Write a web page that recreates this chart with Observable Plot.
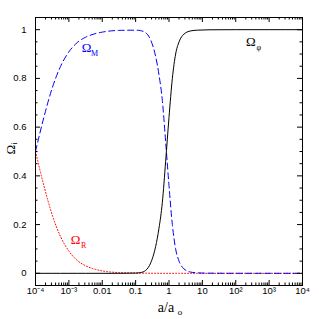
<!DOCTYPE html>
<html><head><meta charset="utf-8">
<script src="https://cdn.jsdelivr.net/npm/d3@7"></script>
<script src="https://cdn.jsdelivr.net/npm/@observablehq/plot@0.6"></script>
<style>body{margin:0;background:#fff;}</style>
</head><body><div id="chart"></div>
<script>
// scale factor a/a0
const scaleFactor = [1e-4, 1.78e-4, 3.16e-4, 5.62e-4, 1e-3, 1.78e-3, 3.16e-3, 5.62e-3, 0.01, 0.0316, 0.1, 0.141, 0.2, 0.282, 0.398, 0.501, 0.631, 0.794, 1, 1.26, 1.58, 2, 2.82, 4.47, 7.08, 15.8, 100, 1000, 10000];
// density parameters
const omegaR   = [0.5, 0.36, 0.24, 0.151, 0.091, 0.053, 0.031, 0.018, 0.010, 0.003, 0.001, 0.0007, 0.0005, 0.0003, 0.0002, 0.0001, 0, 0, 0, 0, 0, 0, 0, 0, 0, 0, 0, 0, 0];
const omegaM   = [0.5, 0.64, 0.76, 0.849, 0.909, 0.947, 0.969, 0.982, 0.99, 0.997, 0.998, 0.996, 0.9875, 0.958, 0.89, 0.815, 0.71, 0.54, 0.36, 0.20, 0.10, 0.05, 0.018, 0.005, 0.002, 0.0005, 0, 0, 0];
const omegaPhi = [0, 0, 0, 0, 0, 0, 0, 0, 0, 0, 0.001, 0.003, 0.012, 0.042, 0.11, 0.185, 0.29, 0.46, 0.64, 0.80, 0.90, 0.95, 0.982, 0.995, 0.998, 0.9995, 1, 1, 1];

const xTickValues = [1e-4, 1e-3, 0.01, 0.1, 1, 10, 100, 1000, 10000];
const xTickLabels = ["10\u207B\u2074", "10\u207B\u00B3", "0.01", "0.1", "1", "10", "10\u00B2", "10\u00B3", "10\u2074"];
const yTickValues = [0, 0.2, 0.4, 0.6, 0.8, 1];
const yTickLabels = ["0", "0.2", "0.4", "0.6", "0.8", "1"];
const yMinorValues = [0.05, 0.1, 0.15, 0.25, 0.3, 0.35, 0.45, 0.5, 0.55, 0.65, 0.7, 0.75, 0.85, 0.9, 0.95];
const xMinorValues = [];
for (const dec of [1e-4, 1e-3, 1e-2, 1e-1, 1, 10, 100, 1000]) for (let k = 2; k <= 9; k++) xMinorValues.push(dec * k);

const seriesLabels = [
  {a: 3.4e-3, v: 0.926, main: "\u03A9", sub: "M", color: "#0000ff"},
  {a: 1.6e-3, v: 0.139, main: "\u03A9", sub: "R", color: "#ff0000"},
  {a: 282, v: 0.951, main: "\u03A9", sub: "\u03C6", color: "#000000"}
];

const rows = scaleFactor.map((a, i) => ({a, R: omegaR[i], M: omegaM[i], P: omegaPhi[i]}));

const W = 319, H = 319, mL = 35, mR = 17, mT = 17, mB = 34;
const ph = H - mT - mB, pw = W - mL - mR;
const serif = "Liberation Serif";

const chart = Plot.plot({
  width: W, height: H,
  marginLeft: mL, marginRight: mR, marginTop: mT, marginBottom: mB,
  style: {fontFamily: "Liberation Sans", fontSize: "9.5px", background: "#fff", color: "#000"},
  x: {type: "log", domain: [1e-4, 1e4], axis: null},
  y: {domain: [-0.05, 1.05], axis: null},
  marks: [
    Plot.line(rows, {x: "a", y: "R", stroke: "#ff0000", strokeWidth: 1, strokeDasharray: "1,2", curve: "monotone-x"}),
    Plot.line(rows, {x: "a", y: "M", stroke: "#0000ff", strokeWidth: 1, strokeDasharray: "6,3.5", curve: "monotone-x"}),
    Plot.line(rows, {x: "a", y: "P", stroke: "#000000", strokeWidth: 1, curve: "monotone-x"}),
    Plot.frame({stroke: "#000", strokeWidth: 1}),
    // ticks, inward on all four sides
    Plot.tickX(xTickValues, {x: d => d, insetTop: ph - 5, stroke: "#000"}),
    Plot.tickX(xTickValues, {x: d => d, insetBottom: ph - 5, stroke: "#000"}),
    Plot.tickX(xMinorValues, {x: d => d, insetTop: ph - 2.5, stroke: "#000"}),
    Plot.tickX(xMinorValues, {x: d => d, insetBottom: ph - 2.5, stroke: "#000"}),
    Plot.tickY(yTickValues, {y: d => d, insetRight: pw - 5, stroke: "#000"}),
    Plot.tickY(yTickValues, {y: d => d, insetLeft: pw - 5, stroke: "#000"}),
    Plot.tickY(yMinorValues, {y: d => d, insetRight: pw - 2.5, stroke: "#000"}),
    Plot.tickY(yMinorValues, {y: d => d, insetLeft: pw - 2.5, stroke: "#000"}),
    // tick labels
    Plot.text(xTickValues, {x: d => d, text: (d, i) => xTickLabels[i], frameAnchor: "bottom", dy: 8, fill: "#000"}),
    Plot.text(yTickValues, {y: d => d, text: (d, i) => yTickLabels[i], frameAnchor: "left", textAnchor: "end", dx: -9, fill: "#000"}),
    // axis titles
    Plot.text(["a/a"], {frameAnchor: "bottom", dx: -3, dy: 26, fontFamily: serif, fontSize: 14, fill: "#000"}),
    Plot.text(["o"], {frameAnchor: "bottom", dx: 11, dy: 29, fontFamily: serif, fontSize: 9, fill: "#000"}),
    Plot.text(["\u03A9"], {frameAnchor: "left", dx: -25, dy: 3, rotate: -90, fontFamily: serif, fontSize: 13, fill: "#000"}),
    Plot.text(["i"], {frameAnchor: "left", dx: -21, dy: -7, rotate: -90, fontFamily: serif, fontSize: 8, fill: "#000"}),
    // series labels
    Plot.text(seriesLabels, {x: "a", y: "v", text: "main", fill: "color", fontFamily: serif, fontSize: 13}),
    Plot.text(seriesLabels, {x: "a", y: "v", text: "sub", fill: "color", fontFamily: serif, fontSize: 8, dx: 8, dy: 6})
  ]
});
document.getElementById("chart").appendChild(chart);
</script>
</body></html>
